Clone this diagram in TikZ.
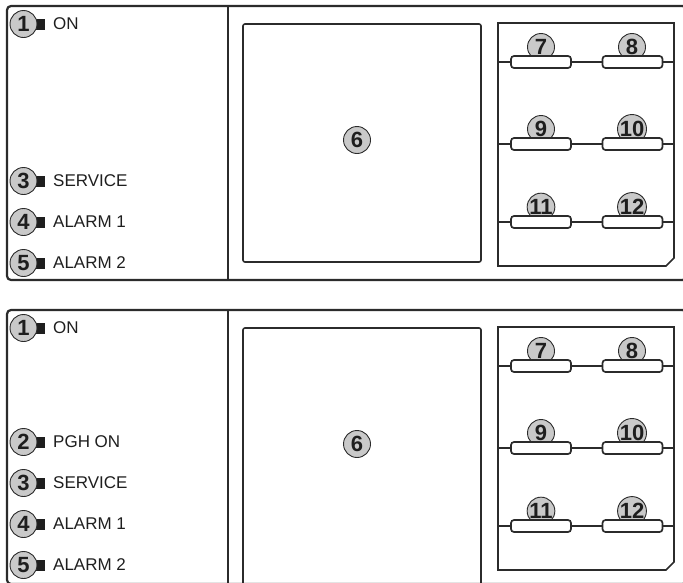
\documentclass[tikz,border=0pt]{standalone}
\usepackage{fontspec}
\setmainfont{Liberation Sans}
\usetikzlibrary{positioning, calc}
\definecolor{linegray}{HTML}{2B2B2B}
\definecolor{badgegray}{HTML}{C9C9C9}
\definecolor{inkgray}{HTML}{1E1E1E}

\tikzset{
  housing/.style={draw=linegray, line width=2.2pt},
  screen/.style={draw=linegray, line width=1.6pt, rounded corners=2pt},
  badge/.style={circle, draw=linegray, line width=0.9pt, fill=badgegray,
    minimum size=27pt, inner sep=0pt, text=inkgray,
    font=\fontsize{22}{22}\selectfont\bfseries},
  led/.style={fill=inkgray, minimum width=9pt, minimum height=11pt, inner sep=0pt},
  lbl/.style={anchor=west, inner sep=0pt, text=inkgray,
    font=\fontsize{17}{19}\selectfont},
  key/.style={draw=linegray, line width=1.7pt, fill=white, rounded corners=3pt,
    minimum width=60pt, minimum height=12pt, inner sep=0pt},
  wire/.style={draw=linegray, line width=1.2pt}
}

% indicator: name, y, number, text
\newcommand{\indicator}[4]{
  \node[led] (#1led) at (40,#2) {};
  \node[badge] (#1) at (23.5,#2) {#3};
  \node[lbl] (#1txt) at (53,#2) {#4};
}

% one control unit: prefix, shift, bottom of screen
\newcommand{\controlunit}[3]{
\begin{scope}[yshift=-#2pt]
  % housing
  \draw[housing, rounded corners=4pt] (7,6) rectangle (686.5,280);
  \draw[housing] (228,6) -- (228,280);
  % screen
  \draw[screen] (243,24) rectangle (481,#3);
  \node[badge] (#1disp) at (357,140) {6};
  % keypad
  \draw[screen, rounded corners=0pt] (498,23) -- (674,23) -- (674,258)
    -- (666,266) -- (498,266) -- cycle;
  \foreach \rw/\ky/\na/\nb in {a/62/7/8, b/144/9/10, c/222/11/12} {
    \coordinate (#1l\rw) at (498,\ky);
    \coordinate (#1r\rw) at (674,\ky);
    \node[badge] (#1b\na) at (541,\ky-15) {\na};
    \node[key] (#1k\na) at (541,\ky) {};
    \node[badge] (#1b\nb) at (632,\ky-15) {\nb};
    \node[key] (#1k\nb) at (632.5,\ky) {};
    \draw[wire] (#1l\rw) -- (#1k\na) -- (#1k\nb) -- (#1r\rw);
  }
  % power lamp
  \indicator{#1on}{24}{1}{ON}
\end{scope}
}

\begin{document}
\begin{tikzpicture}[x=1pt, y=-1pt]
\useasboundingbox (0,0) rectangle (683,582);

% Upper unit
\controlunit{t}{0}{262}
\indicator{tsvc}{181}{3}{SERVICE}
\indicator{tal1}{222}{4}{ALARM 1}
\indicator{tal2}{263}{5}{ALARM 2}

% Lower unit
\controlunit{u}{304}{300}
\indicator{upgh}{442}{2}{PGH ON}
\indicator{usvc}{483}{3}{SERVICE}
\indicator{ual1}{524}{4}{ALARM 1}
\indicator{ual2}{565}{5}{ALARM 2}
\end{tikzpicture}
\end{document}
